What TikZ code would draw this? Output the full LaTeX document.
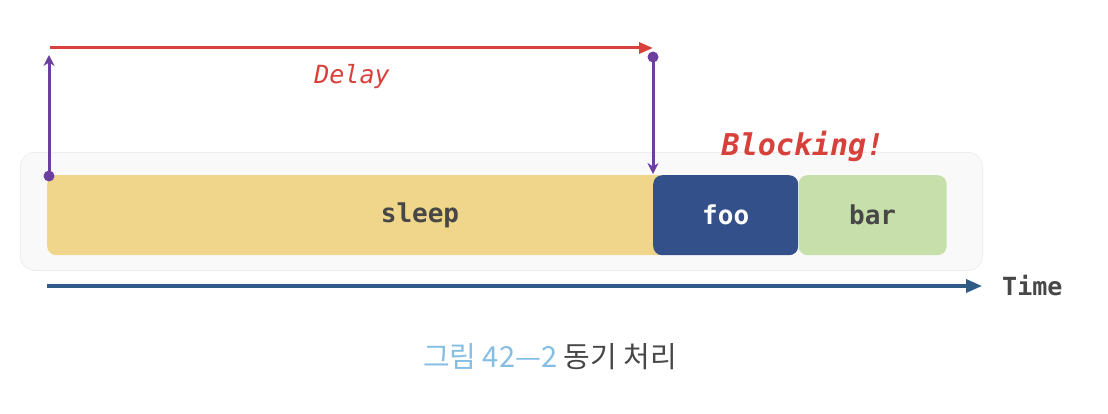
\documentclass[tikz,border=0pt]{standalone}
\usepackage{fontspec}
\setmonofont{DejaVu Sans Mono}
\newfontfamily\krfont{Noto Sans CJK KR}
\usetikzlibrary{arrows.meta,positioning}

\definecolor{sleepyellow}{HTML}{EFD68A}
\definecolor{foonavy}{HTML}{34508A}
\definecolor{bargreen}{HTML}{C7DFAA}
\definecolor{delayred}{HTML}{D8413B}
\definecolor{waitpurple}{HTML}{6C3E9E}
\definecolor{timeblue}{HTML}{2F5B86}
\definecolor{panelgray}{HTML}{F9F9F9}
\definecolor{paneledge}{HTML}{EEEEEE}
\definecolor{captionblue}{HTML}{86BDE3}
\definecolor{labelgray}{HTML}{474747}

\begin{document}
\begin{tikzpicture}[
    x=1pt, y=-1pt,
    task/.style={rectangle, rounded corners=9pt, minimum height=80pt, inner sep=0pt, anchor=north west, font=\ttfamily\bfseries\fontsize{26}{26}\selectfont},
    waitline/.style={draw=waitpurple, line width=3pt, -{Stealth[length=11pt,width=11pt]}},
    dotmark/.style={circle, fill=waitpurple, inner sep=0pt, minimum size=11pt}
]
\useasboundingbox (0,0) rectangle (1108,414);

% Background panel
\node[fill=panelgray, draw=paneledge, line width=0.8pt, rounded corners=14pt, minimum width=962pt, minimum height=118pt, anchor=north west] (panel) at (20,152) {};

% Tasks
\node[task, fill=sleepyellow, minimum width=620pt] (sleep) at (47,175) {};
\node[text=labelgray, font=\ttfamily\bfseries\fontsize{26}{26}\selectfont] (sleeptxt) at (420,215) {sleep};
\node[task, fill=foonavy, text=white, minimum width=145pt] (foo) at (653,175) {foo};
\node[task, fill=bargreen, text=labelgray, minimum width=148pt, right=0pt of foo] (bar) {bar};

% Delay
\coordinate (dstart) at (50,48);
\coordinate (dend) at (653,48);
\draw[draw=delayred, line width=3pt, -{Triangle[length=14pt,width=11pt]}] (dstart) -- (dend);
\node[text=delayred, font=\ttfamily\itshape\fontsize{25}{25}\selectfont] (delay) at (352,77) {Delay};

% Timer start and end
\node[dotmark] (tstartdot) at (49,176) {};
\coordinate (tup) at (49,55);
\draw[waitline] (tstartdot.center) -- (tup);
\node[dotmark] (tenddot) at (653,57) {};
\coordinate (tdown) at (653,174);
\draw[waitline] (tenddot.center) -- (tdown);

% Blocking
\node[text=delayred, font=\ttfamily\bfseries\itshape\fontsize{30}{30}\selectfont] (blocking) at (803,146) {Blocking!};

% Time axis
\coordinate (axstart) at (47,286);
\node[anchor=west, inner sep=0pt, text=labelgray, font=\ttfamily\bfseries\fontsize{25}{25}\selectfont] (time) at (1002,286) {Time};
\draw[draw=timeblue, line width=3.5pt, -{Triangle[length=16pt,width=13pt]}] (axstart) -- ([xshift=-20pt]time.west);

% Caption
\node[font=\krfont\fontsize{29}{29}\selectfont] (caption) at (550,357) {\textcolor{captionblue}{그림 42—2} \textcolor{labelgray}{동기 처리}};

\end{tikzpicture}
\end{document}
